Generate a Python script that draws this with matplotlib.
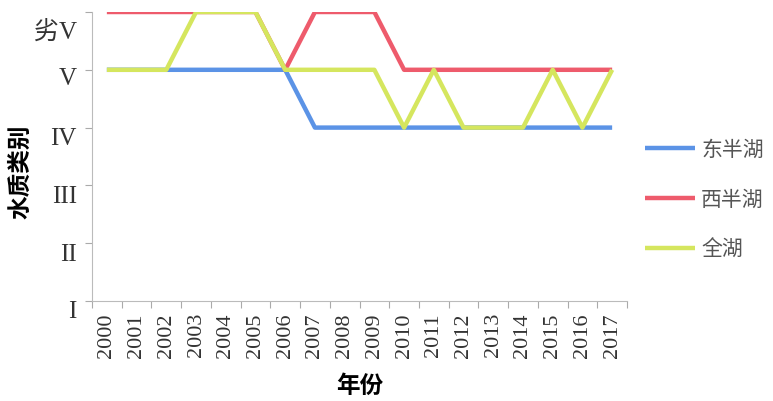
import matplotlib
matplotlib.use('Agg')
from matplotlib import pyplot as plt
import matplotlib.transforms as mtransforms

plt.rcParams['font.family'] = ['Liberation Serif', 'Noto Sans CJK SC', 'DejaVu Sans']

years = [str(y) for y in range(2000, 2018)]
# 1=I ... 5=V, 6=劣V
east = [5, 5, 5, 5, 5, 5, 5, 4, 4, 4, 4, 4, 4, 4, 4, 4, 4, 4]
west = [6, 6, 6, 6, 6, 6, 5, 6, 6, 6, 5, 5, 5, 5, 5, 5, 5, 5]
whole = [5, 5, 5, 6, 6, 6, 5, 5, 5, 5, 4, 5, 4, 4, 4, 5, 4, 5]
y_levels = [1, 2, 3, 4, 5, 6]
y_labels = ['I', 'II', 'III', 'IV', 'V', '劣V']

fig = plt.figure(figsize=(7.73, 4.02), dpi=100)
ax = fig.add_axes([92 / 773, 100 / 402, 535 / 773, 289 / 402])

x = range(len(years))
ax.plot(x, east, color='#5b93e6', lw=3.2, label='东半湖', solid_capstyle='butt')
ax.plot(x, west, color='#ee5b6c', lw=3.2, label='西半湖', solid_capstyle='butt')
ax.plot(x, whole, color='#d5e65e', lw=3.2, label='全湖', solid_capstyle='butt')

ax.set_xlim(-0.5, len(years) - 0.5)
ax.set_ylim(1, 6)

ax.set_xticks([i - 0.5 for i in range(len(years) + 1)])
ax.set_xticklabels([])
ax.set_xticks(list(x), minor=True)
ax.set_xticklabels(years, minor=True, rotation=90, fontsize=16, color='#333333')
ax.tick_params(axis='x', which='major', length=5, color='#aaaaaa', direction='out')
ax.tick_params(axis='x', which='minor', length=0, pad=8)

ax.set_yticks(y_levels)
ax.set_yticklabels(y_labels, fontsize=18, color='#333333')
ax.tick_params(axis='y', length=5, color='#aaaaaa', pad=6)
offs = [8, 8, 8, 8, 6, 17]
for lab, o in zip(ax.get_yticklabels(), offs):
    lab.set_transform(lab.get_transform() + mtransforms.ScaledTranslation(0, -o / 100, fig.dpi_scale_trans))

for s in ['top', 'right']:
    ax.spines[s].set_visible(False)
ax.spines['left'].set_color('#bbbbbb')
ax.spines['bottom'].set_color('#bbbbbb')

fig.text(360 / 773, 1 - 386 / 402, '年份', fontsize=17, fontweight='bold',
         family=['Noto Sans CJK SC'], ha='center', va='center')
fig.text(20 / 773, 1 - 172 / 402, '水质类别', rotation=90, fontsize=17, fontweight='bold',
         family=['Noto Sans CJK SC'], ha='center', va='center')

fig.legend(loc='upper left', bbox_to_anchor=(645 / 773, 1 - 139 / 402), frameon=False,
           prop={'family': ['Noto Sans CJK SC'], 'size': 15}, borderpad=0, borderaxespad=0,
           handlelength=2.4, handletextpad=0.3, labelspacing=1.35, labelcolor='#555555')

fig.savefig('out.png', dpi=100)
